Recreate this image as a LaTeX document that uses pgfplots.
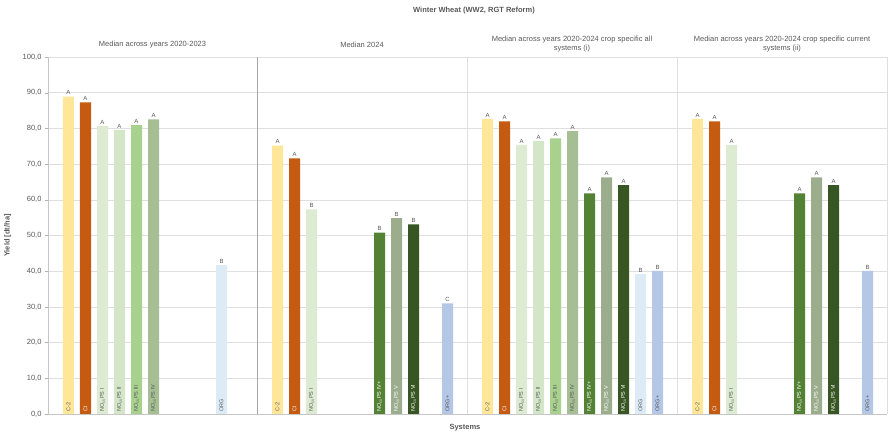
\documentclass[border=0pt]{standalone}
\usepackage{pgfplots}
\pgfplotsset{compat=1.18}
\usepackage{fontspec}
\setmainfont{Liberation Sans}
\definecolor{cC2}{HTML}{FFE699}
\definecolor{cCI}{HTML}{C55A11}
\definecolor{cN1}{HTML}{DDEBD3}
\definecolor{cN2}{HTML}{D3E6C8}
\definecolor{cN3}{HTML}{A9D18E}
\definecolor{cN4}{HTML}{A5BE93}
\definecolor{cN4p}{HTML}{548235}
\definecolor{cN5}{HTML}{9BAD8D}
\definecolor{cN6}{HTML}{375623}
\definecolor{cORG}{HTML}{DDEBF7}
\definecolor{cORGp}{HTML}{B4C7E7}
\definecolor{txtgray}{HTML}{595959}
\pgfplotsset{
  barstyle/.style={ybar, bar width=11, bar shift=0pt, draw=none, fill=#1,
    point meta=explicit symbolic, nodes near coords,
    every node near coord/.append style={font=\fontsize{6}{7}\selectfont, text=txtgray, inner sep=1.5pt}},
  lblstyle/.style 2 args={only marks, mark=*, mark size=0pt, mark options={draw=none, fill=none},
    nodes near coords={#1},
    every node near coord/.style={rotate=90, anchor=west, inner sep=2.5pt,
      font=\fontsize{5.5}{6}\selectfont, text=#2}},
}
\begin{document}
\begin{tikzpicture}[x=1pt,y=1pt]
\useasboundingbox (-48,-21) rectangle (840,414);
\begin{axis}[
  at={(0,0)}, anchor=south west,
  scale only axis, width=839pt, height=357pt,
  xmin=0, xmax=839, ymin=0, ymax=100,
  axis lines*=left,
  axis line style={draw=gray!45},
  xtick=\empty,
  ytick={0,10,...,100},
  ymajorgrids, grid style={gray!25, line width=0.5pt},
  tick align=outside, major tick length=3pt,
  ytick style={gray!60},
  yticklabel style={font=\fontsize{7.5}{8}\selectfont, text=txtgray,
    /pgf/number format/fixed, /pgf/number format/fixed zerofill,
    /pgf/number format/precision=1, /pgf/number format/use comma,
    /pgf/number format/assume math mode=true},
  ylabel={\textbf{Yield [dt/ha]}},
  ylabel style={at={(axis description cs:-0.048,0.5)}, anchor=center,
    font=\fontsize{7.5}{8}\selectfont, text=txtgray},
  xlabel={\textbf{Systems}},
  xlabel style={at={(axis description cs:0.497,0)}, yshift=-14pt, anchor=center,
    font=\fontsize{7.5}{8}\selectfont, text=txtgray},
  clip=false,
]
% panel separators
\draw[gray!70, line width=0.6pt] (axis cs:209,0) -- (axis cs:209,100);
\draw[gray!25, line width=0.6pt] (axis cs:419,0) -- (axis cs:419,100);
\draw[gray!25, line width=0.6pt] (axis cs:629,0) -- (axis cs:629,100);
\draw[gray!25, line width=0.6pt] (axis cs:839,0) -- (axis cs:839,100);

% bars
\addplot[barstyle=cC2] table[row sep=\\, meta=l] {x y l\\ 20.5 88.9 A\\ 229.5 75.2 A\\ 439.5 82.7 A\\ 649.5 82.7 A\\};
\addplot[barstyle=cCI] table[row sep=\\, meta=l] {x y l\\ 37.5 87.3 A\\ 246.5 71.6 A\\ 456.5 82.0 A\\ 666.5 82.0 A\\};
\addplot[barstyle=cN1] table[row sep=\\, meta=l] {x y l\\ 54.5 80.6 A\\ 263.5 57.3 B\\ 473.5 75.4 A\\ 683.5 75.4 A\\};
\addplot[barstyle=cN2] table[row sep=\\, meta=l] {x y l\\ 71.5 79.6 A\\ 490.5 76.5 A\\};
\addplot[barstyle=cN3] table[row sep=\\, meta=l] {x y l\\ 88.5 80.9 A\\ 507.5 77.2 A\\};
\addplot[barstyle=cN4] table[row sep=\\, meta=l] {x y l\\ 105.5 82.5 A\\ 524.5 79.2 A\\};
\addplot[barstyle=cN4p] table[row sep=\\, meta=l] {x y l\\ 331.5 50.8 B\\ 541.5 61.8 A\\ 751.5 61.8 A\\};
\addplot[barstyle=cN5] table[row sep=\\, meta=l] {x y l\\ 348.5 54.9 B\\ 558.5 66.3 A\\ 768.5 66.3 A\\};
\addplot[barstyle=cN6] table[row sep=\\, meta=l] {x y l\\ 365.5 53.1 B\\ 575.5 64.1 A\\ 785.5 64.1 A\\};
\addplot[barstyle=cORG] table[row sep=\\, meta=l] {x y l\\ 173.5 41.7 B\\ 592.5 39.2 B\\};
\addplot[barstyle=cORGp] table[row sep=\\, meta=l] {x y l\\ 399.5 31.0 C\\ 609.5 40.1 B\\ 819.5 40.1 B\\};

% category labels inside bars
\addplot[lblstyle={C-2}{txtgray}] coordinates {(20.5,0) (229.5,0) (439.5,0) (649.5,0)};
\addplot[lblstyle={CI}{white}] coordinates {(37.5,0) (246.5,0) (456.5,0) (666.5,0)};
\addplot[lblstyle={NO\textsubscript{cs}PS I}{txtgray}] coordinates {(54.5,0) (263.5,0) (473.5,0) (683.5,0)};
\addplot[lblstyle={NO\textsubscript{cs}PS II}{txtgray}] coordinates {(71.5,0) (490.5,0)};
\addplot[lblstyle={NO\textsubscript{cs}PS III}{txtgray}] coordinates {(88.5,0) (507.5,0)};
\addplot[lblstyle={NO\textsubscript{cs}PS IV}{txtgray}] coordinates {(105.5,0) (524.5,0)};
\addplot[lblstyle={NO\textsubscript{cs}PS IV+}{white}] coordinates {(331.5,0) (541.5,0) (751.5,0)};
\addplot[lblstyle={NO\textsubscript{cs}PS V}{white}] coordinates {(348.5,0) (558.5,0) (768.5,0)};
\addplot[lblstyle={NO\textsubscript{cs}PS VI}{white}] coordinates {(365.5,0) (575.5,0) (785.5,0)};
\addplot[lblstyle={ORG}{txtgray}] coordinates {(173.5,0) (592.5,0)};
\addplot[lblstyle={ORG+}{txtgray}] coordinates {(399.5,0) (609.5,0) (819.5,0)};

% panel headers and title
\node[font=\fontsize{7.5}{9}\selectfont, text=txtgray, align=center] at (axis cs:104.5,100) [yshift=12.5pt] {Median across years 2020-2023};
\node[font=\fontsize{7.5}{9}\selectfont, text=txtgray, align=center] at (axis cs:314,100) [yshift=12.5pt] {Median 2024};
\node[font=\fontsize{7.5}{9}\selectfont, text=txtgray, align=center] at (axis cs:524,100) [yshift=12.5pt] {Median across years 2020-2024 crop specific all\\systems (i)};
\node[font=\fontsize{7.5}{9}\selectfont, text=txtgray, align=center] at (axis cs:734,100) [yshift=12.5pt] {Median across years 2020-2024 crop specific current\\systems (ii)};
\node[font=\bfseries\fontsize{7.5}{9}\selectfont, text=txtgray] at (axis cs:426,100) [yshift=46pt] {Winter Wheat (WW2, RGT Reform)};
\end{axis}
\end{tikzpicture}
\end{document}
